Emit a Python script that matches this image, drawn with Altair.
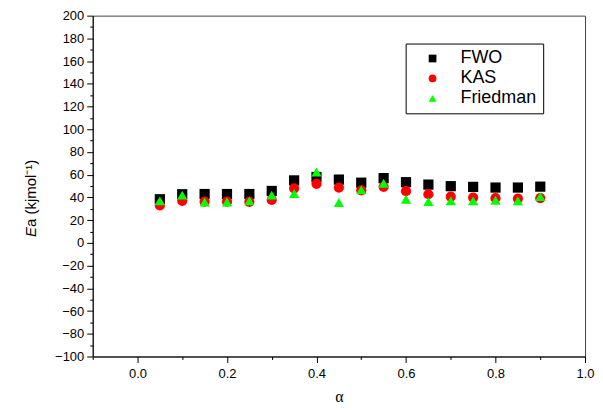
import altair as alt
import pandas as pd

ALPHA = [0.05, 0.10, 0.15, 0.20, 0.25, 0.30, 0.35, 0.40, 0.45,
         0.50, 0.55, 0.60, 0.65, 0.70, 0.75, 0.80, 0.85, 0.90]
FWO = [38.4, 42.8, 43.0, 43.0, 43.0, 45.7, 55.0, 58.0, 55.7,
       53.0, 57.0, 53.4, 51.3, 49.9, 49.3, 48.7, 48.7, 49.5]
KAS = [33.0, 37.0, 36.3, 36.3, 36.0, 37.8, 48.0, 52.0, 48.7,
       46.3, 49.3, 45.5, 42.8, 40.7, 39.9, 39.3, 39.0, 39.3]
FRIEDMAN = [37.0, 42.0, 36.0, 36.0, 37.0, 42.0, 43.4, 62.4, 35.5,
            46.6, 52.5, 38.4, 36.3, 37.0, 37.0, 37.5, 37.0, 40.7]
METHODS = ["FWO", "KAS", "Friedman"]
COLORS = ["#000000", "#ff0000", "#00ff00"]
SHAPES = ["square", "circle", "triangle-up"]
X_TICKS = [-0.1, 0.0, 0.1, 0.2, 0.3, 0.4, 0.5, 0.6, 0.7, 0.8, 0.9, 1.0]
Y_TICKS = list(range(-100, 201, 10))
X_TITLE = "α"
Y_TITLE_ITALIC = "E"
Y_TITLE_REST = "a (kjmol⁻¹)"

rows = []
for m, vals in zip(METHODS, [FWO, KAS, FRIEDMAN]):
    for a, v in zip(ALPHA, vals):
        rows.append({"alpha": a, "Ea": v, "method": m})
df = pd.DataFrame(rows)

FONT = "Liberation Sans"

legend_kw = dict(
    title=None, orient="none", legendX=314, legendY=28,
    strokeColor="black", fillColor="white", padding=6,
    labelFont=FONT, labelFontSize=18, labelColor="black",
    symbolSize=60, symbolStrokeWidth=0, rowPadding=2,
    labelOffset=19, symbolOffset=12, cornerRadius=0,
)

points = alt.Chart(df).mark_point(filled=True, opacity=1, size=105).encode(
    x=alt.X(
        "alpha:Q",
        scale=alt.Scale(domain=[-0.1, 1.0], nice=False, zero=False),
        axis=alt.Axis(
            values=X_TICKS,
            labelExpr="abs(round(datum.value*10)) % 2 == 0 ? format(datum.value, '.1f') : ''",
            tickSize={"condition": {"test": "abs(round(datum.value*10)) % 2 == 0", "value": 6}, "value": 3},
            title=X_TITLE, titleFont="Liberation Serif", titleFontSize=16,
            titleFontWeight="normal", titlePadding=8,
            labelFontSize=13, labelPadding=5, labelFlush=False,
            grid=False,
        ),
    ),
    y=alt.Y(
        "Ea:Q",
        scale=alt.Scale(domain=[-100, 200], nice=False, zero=False),
        axis=alt.Axis(
            values=Y_TICKS,
            labelExpr="datum.value % 20 === 0 ? datum.label : ''",
            tickSize={"condition": {"test": "datum.value % 20 === 0", "value": 6}, "value": 3},
            title=None, labelFontSize=13, labelPadding=3, labelFlush=False,
            grid=False,
        ),
    ),
    fill=alt.Fill("method:N", scale=alt.Scale(domain=METHODS, range=COLORS),
                  legend=alt.Legend(**legend_kw)),
    shape=alt.Shape("method:N", scale=alt.Scale(domain=METHODS, range=SHAPES),
                    legend=alt.Legend(**legend_kw)),
)

t1 = alt.Chart(pd.DataFrame({"t": [Y_TITLE_ITALIC]})).mark_text(
    angle=270, align="right", baseline="middle", font=FONT, fontSize=15,
    fontStyle="italic", color="black",
).encode(x=alt.value(-62), y=alt.value(212), text="t:N")

t2 = alt.Chart(pd.DataFrame({"t": [Y_TITLE_REST]})).mark_text(
    angle=270, align="left", baseline="middle", font=FONT, fontSize=15,
    color="black",
).encode(x=alt.value(-62), y=alt.value(212), text="t:N")

chart = alt.layer(points, t1, t2).properties(
    width=494, height=342,
    autosize=alt.AutoSizeParams(type="none"),
    padding={"left": 85, "top": 7, "right": 10, "bottom": 50},
    background="white",
).configure_view(
    stroke="#444444", strokeWidth=1,
).configure_axis(
    domainColor="black", tickColor="black", labelColor="black",
    titleColor="black", labelFont=FONT, domainWidth=1, tickWidth=1,
)

chart.save("out.html", embed_options={"renderer": "svg", "actions": False})
